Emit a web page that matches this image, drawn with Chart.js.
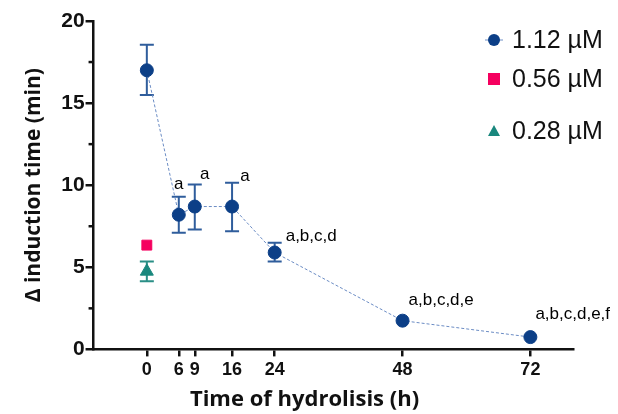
<!DOCTYPE html>
<html><head><meta charset="utf-8">
<script src="https://cdn.jsdelivr.net/npm/chart.js@4"></script>
<style>html,body{margin:0;padding:0;background:#fff}#wrap{width:618px;height:414px}</style>
</head><body><div id="wrap"><canvas id="c"></canvas></div>
<script>
// ---- data ----
const hours = [0, 6, 9, 16, 24, 48, 72];
const mean112 = [17.0, 8.2, 8.7, 8.7, 5.9, 1.75, 0.75];
const low112  = [15.5, 7.1, 7.3, 7.2, 5.35, 1.75, 0.75];
const high112 = [18.55, 9.3, 10.05, 10.15, 6.5, 1.75, 0.75];
const hours056 = [0];
const mean056 = [6.35];
const hours028 = [0];
const mean028 = [4.75];
const low028 = [4.15];
const high028 = [5.35];
const letters = ['', 'a', 'a', 'a', 'a,b,c,d', 'a,b,c,d,e', 'a,b,c,d,e,f'];
const xTicks = [0, 6, 9, 16, 24, 48, 72];
const seriesNames = ['1.12 µM', '0.56 µM', '0.28 µM'];
const xTitle = 'Time of hydrolisis (h)';
const yTitle = 'Δ induction time (min)';

// ---- styles ----
const navy = '#0c3f87', pink = '#f5005f', teal = '#19877d';
const letterOffsets = [[0,0],[0,-12],[10,-10],[13,-6],[11,-6],[6,-20],[5,-23]]; // px offsets from anchor
const letterAlign = ['center','center','center','center','left','left','left'];
const titleFont = '"Open Sans", "Liberation Sans", sans-serif';
const tickFont = '"Liberation Sans", Arial, sans-serif';

function toPts(xs, ys){ return xs.map((x,i)=>({x:x,y:ys[i]})); }

const errorBars = {
  id:'errorBars',
  beforeDatasetsDraw(chart){
    const {ctx, scales:{x,y}} = chart;
    const sets = [
      {xs:hours, lo:low112, hi:high112, color:'#2f5d9c'},
      {xs:hours028, lo:low028, hi:high028, color:'#2a8f86'}
    ];
    ctx.save();
    ctx.lineWidth = 2;
    sets.forEach(s=>{
      ctx.strokeStyle = s.color;
      s.xs.forEach((h,i)=>{
        if (s.hi[i] === s.lo[i]) return;
        const px = x.getPixelForValue(h);
        const y1 = y.getPixelForValue(s.lo[i]), y2 = y.getPixelForValue(s.hi[i]);
        ctx.beginPath();
        ctx.moveTo(px,y1); ctx.lineTo(px,y2);
        ctx.moveTo(px-7,y1); ctx.lineTo(px+7,y1);
        ctx.moveTo(px-7,y2); ctx.lineTo(px+7,y2);
        ctx.stroke();
      });
    });
    ctx.restore();
  },
  afterDraw(chart){
    const {ctx, scales:{x,y}} = chart;
    ctx.save();
    // minor y ticks (shorter)
    ctx.strokeStyle = '#111'; ctx.lineWidth = 2.5;
    y.ticks.forEach(t=>{
      if (t.value % 5 === 0) return;
      const py = y.getPixelForValue(t.value);
      ctx.beginPath(); ctx.moveTo(x.left - 5, py); ctx.lineTo(x.left, py); ctx.stroke();
    });
    // x axis title (sits left of the plot centre, as in the reference)
    ctx.fillStyle = '#111';
    ctx.font = 'bold 22px ' + titleFont;
    ctx.textAlign = 'center'; ctx.textBaseline = 'middle';
    ctx.fillText(xTitle, x.left + (x.right - x.left) * 0.44, 400);
    // letters
    ctx.fillStyle = '#000';
    ctx.font = '17px "Liberation Sans", Arial, sans-serif';
    hours.forEach((h,i)=>{
      if (!letters[i]) return;
      const px = x.getPixelForValue(h);
      const anchorY = (high112[i] !== low112[i]) ? y.getPixelForValue(high112[i]) : y.getPixelForValue(mean112[i]);
      ctx.textAlign = letterAlign[i];
      ctx.fillText(letters[i], px + letterOffsets[i][0], anchorY + letterOffsets[i][1]);
    });
    // legend
    const lx = 494, ty = [40, 79, 131];
    ctx.font = '25px "Liberation Sans", Arial, sans-serif';
    ctx.textAlign = 'left';
    ctx.strokeStyle = '#6f8fc6'; ctx.lineWidth = 1;
    ctx.beginPath(); ctx.moveTo(lx-9, ty[0]); ctx.lineTo(lx+9, ty[0]); ctx.stroke();
    ctx.fillStyle = navy;
    ctx.beginPath(); ctx.arc(lx, ty[0], 6, 0, Math.PI*2); ctx.fill();
    ctx.fillStyle = pink; ctx.fillRect(lx-6, ty[1]-6, 12, 12);
    ctx.fillStyle = teal;
    ctx.beginPath(); ctx.moveTo(lx, ty[2]-6); ctx.lineTo(lx+6, ty[2]+5); ctx.lineTo(lx-6, ty[2]+5); ctx.closePath(); ctx.fill();
    ctx.fillStyle = '#111';
    seriesNames.forEach((n,i)=> ctx.fillText(n, lx+18, ty[i]+1));
    ctx.restore();
  }
};

new Chart(document.getElementById('c'), {
  type: 'scatter',
  data: {
    datasets: [
      { label: seriesNames[0], data: toPts(hours, mean112), showLine: true,
        borderColor: '#6b8cc4', borderWidth: 1, borderDash: [3,2],
        pointBackgroundColor: navy, pointBorderColor: navy, pointRadius: 6.5, pointStyle: 'circle' },
      { label: seriesNames[1], data: toPts(hours056, mean056),
        pointBackgroundColor: pink, pointBorderColor: pink, pointRadius: 7, pointStyle: 'rect' },
      { label: seriesNames[2], data: toPts(hours028, mean028),
        pointBackgroundColor: teal, pointBorderColor: teal, pointRadius: 7.5, pointStyle: 'triangle' }
    ]
  },
  options: {
    responsive: true, maintainAspectRatio: false, animation: false,
    layout: { padding: { left: 21, right: 45, top: 21, bottom: 30 } },
    plugins: { legend: { display: false }, tooltip: { enabled: false } },
    scales: {
      x: {
        type: 'linear', min: -10, max: 80,
        afterBuildTicks(scale){ scale.ticks = xTicks.map(v=>({value:v})); },
        border: { color: '#111', width: 2.5 },
        grid: { drawOnChartArea: false, tickLength: 7, color: '#111', lineWidth: 2.5 },
        ticks: { color: '#111', padding: 3, font: { family: tickFont, size: 18, weight: 'bold' } },
        title: { display: false }
      },
      y: {
        min: 0, max: 20,
        afterBuildTicks(scale){ const t=[]; for(let v=0; v<=20; v+=2.5) t.push({value:v}); scale.ticks=t; },
        border: { color: '#111', width: 2.5 },
        grid: { drawOnChartArea: false, tickLength: 8, lineWidth: 2.5,
          color: c => (c.tick && c.tick.value % 5 === 0 ? '#111' : 'rgba(0,0,0,0)') },
        ticks: { color: '#111', padding: 1,
          callback: v => (v % 5 === 0 ? String(v) : ''),
          font: { family: tickFont, size: 21, weight: 'bold' } },
        title: { display: true, text: yTitle, color: '#111', padding: { top: 0, bottom: 14 },
          font: { family: titleFont, size: 21, weight: 'bold' } }
      }
    }
  },
  plugins: [errorBars]
});
</script>
</body></html>
